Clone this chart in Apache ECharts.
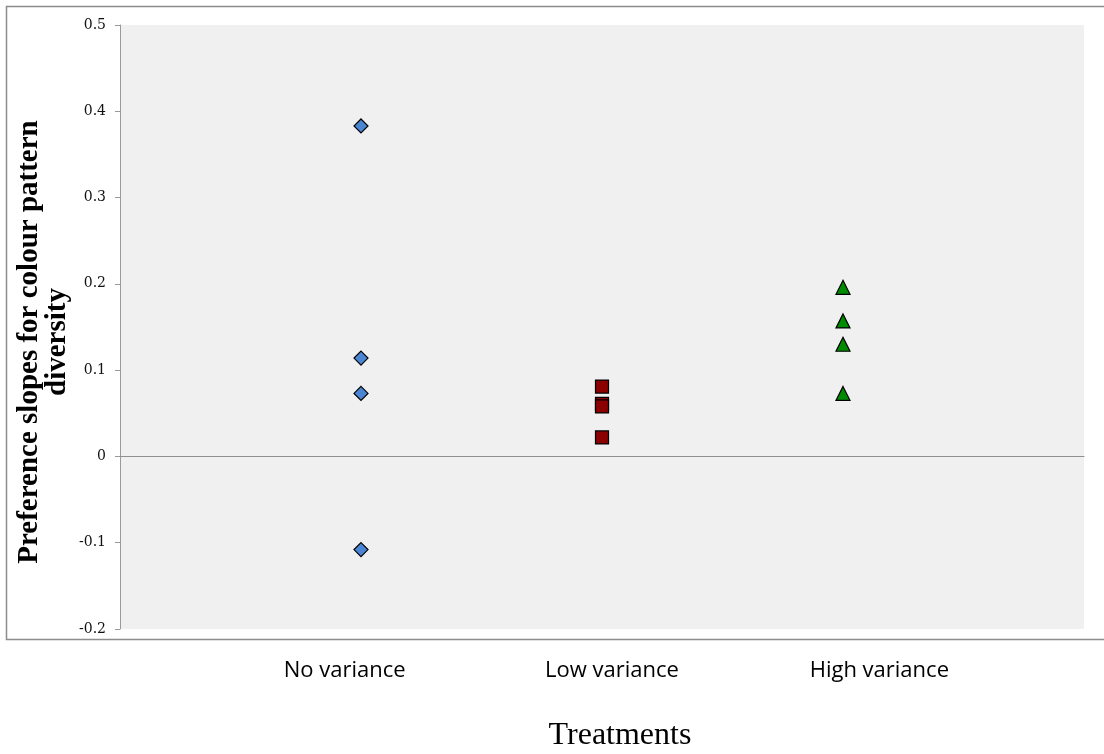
<!DOCTYPE html>
<html>
<head>
<meta charset="utf-8">
<title>Preference slopes by treatment</title>
<script src="https://cdn.jsdelivr.net/npm/echarts@6/dist/echarts.min.js"></script>
<style>
  html, body { margin: 0; padding: 0; background: #ffffff; }
  #chart { width: 1104px; height: 754px; }
</style>
</head>
<body>
<div id="chart"></div>
<script>
// Treatment groups and their individual preference slopes
const categories = ['No variance', 'Low variance', 'High variance'];
const noVariance = [0.383, 0.114, 0.073, -0.108];
const lowVariance = [0.081, 0.061, 0.058, 0.022];
const highVariance = [0.196, 0.157, 0.130, 0.073];

// Y axis range and step
const yMin = -0.2;
const yMax = 0.5;
const yStep = 0.1;

// Place each group's points at its category position (1, 2, 3)
function toPoints(values, groupIndex) {
  return values.map(v => [groupIndex + 1, v]);
}

const chart = echarts.init(document.getElementById('chart'), null, { renderer: 'canvas' });

const option = {
  backgroundColor: '#ffffff',
  animation: false,
  grid: [
    {
      left: 120, top: 25, width: 964, height: 604,
      show: true, backgroundColor: '#f0f0f0', borderWidth: 0
    },
    {
      left: 211, top: 651, width: 802, height: 1,
      show: false
    }
  ],
  xAxis: [
    {
      type: 'value', gridIndex: 0, min: 0, max: categories.length + 1,
      axisLine: { show: true, onZero: true, lineStyle: { color: '#8f8f8f', width: 1.2 } },
      axisTick: { show: false },
      axisLabel: { show: false },
      splitLine: { show: false }
    },
    {
      type: 'category', gridIndex: 1, data: categories, boundaryGap: true,
      axisLine: { show: false },
      axisTick: { show: false },
      splitLine: { show: false },
      axisLabel: {
        margin: 8,
        color: '#000000',
        fontFamily: 'Open Sans',
        fontSize: 22
      }
    }
  ],
  yAxis: [
    {
      type: 'value', gridIndex: 0, min: yMin, max: yMax, interval: yStep,
      axisLine: { show: true, lineStyle: { color: '#9a9a9a', width: 1 } },
      axisTick: { show: true, inside: false, length: 5, lineStyle: { color: '#9a9a9a' } },
      splitLine: { show: false },
      axisLabel: {
        margin: 14,
        color: '#111111',
        fontFamily: 'DejaVu Serif',
        fontSize: 14,
        formatter: v => String(Math.round(v * 10) / 10)
      }
    },
    {
      type: 'value', gridIndex: 1, show: false
    }
  ],
  graphic: [
    {
      type: 'rect', silent: true,
      shape: { x: 6.5, y: 6.5, width: 1110, height: 633 },
      style: { fill: 'none', stroke: '#8c8c8c', lineWidth: 1.5 }
    },
    {
      type: 'text', silent: true,
      x: 44, y: 342, rotation: Math.PI / 2,
      style: {
        text: 'Preference slopes for colour pattern\ndiversity',
        font: 'bold 29px "Liberation Serif", serif',
        lineHeight: 28,
        fill: '#000000',
        textAlign: 'center',
        textVerticalAlign: 'middle'
      }
    },
    {
      type: 'text', silent: true,
      x: 620, y: 736,
      style: {
        text: 'Treatments',
        font: '32px "Liberation Serif", serif',
        fill: '#000000',
        textAlign: 'center',
        textVerticalAlign: 'middle'
      }
    }
  ],
  series: [
    {
      name: categories[0], type: 'scatter', xAxisIndex: 0, yAxisIndex: 0,
      data: toPoints(noVariance, 0),
      symbol: 'diamond', symbolSize: 14,
      itemStyle: { color: '#4a86d4', borderColor: '#000000', borderWidth: 1.2, opacity: 1 }
    },
    {
      name: categories[1], type: 'scatter', xAxisIndex: 0, yAxisIndex: 0,
      data: toPoints(lowVariance, 1),
      symbol: 'rect', symbolSize: 13,
      itemStyle: { color: '#8b0000', borderColor: '#000000', borderWidth: 1.2, opacity: 1 }
    },
    {
      name: categories[2], type: 'scatter', xAxisIndex: 0, yAxisIndex: 0,
      data: toPoints(highVariance, 2),
      symbol: 'triangle', symbolSize: 14,
      itemStyle: { color: '#008a00', borderColor: '#000000', borderWidth: 1.2, opacity: 1 }
    }
  ]
};

chart.setOption(option);
</script>
</body>
</html>
